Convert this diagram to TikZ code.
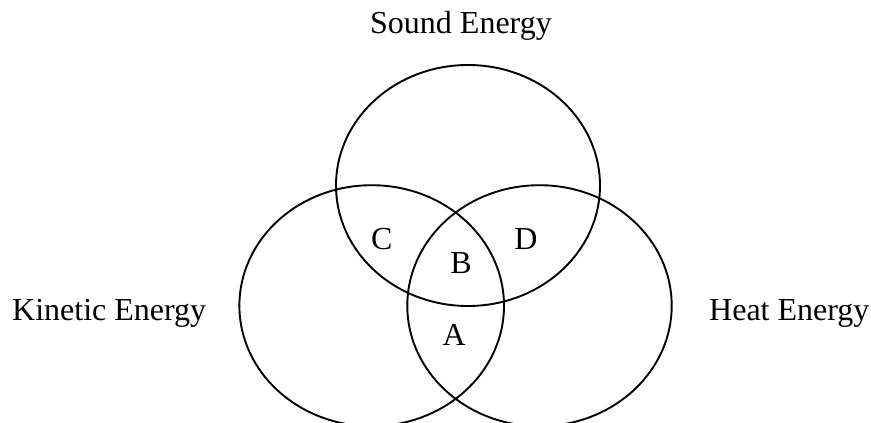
\documentclass[tikz,border=0pt]{standalone}
\usepackage{fontspec}
\setmainfont{Liberation Serif}
\begin{document}
\begin{tikzpicture}[x=1pt,y=-1pt,
  ring/.style={draw=black,line width=1.9pt},
  lbl/.style={inner sep=0pt,font=\fontsize{32}{37}\selectfont}]
\useasboundingbox (0,0) rectangle (871,423);
\begin{scope}
\clip (0,0) rectangle (871,423);
\draw[ring] (468,185.5) ellipse [x radius=132, y radius=120.5];
\draw[ring] (371.7,305.7) ellipse [x radius=132.3, y radius=120.5];
\draw[ring] (539.5,305.7) ellipse [x radius=132.2, y radius=120.5];
\end{scope}
\node[lbl,anchor=base] (sound) at (461,33) {Sound Energy};
\node[lbl,anchor=base west] (kinetic) at (12,320) {Kinetic Energy};
\node[lbl,anchor=base west] (heat) at (709,320) {Heat Energy};
\node[lbl,anchor=base] (c) at (381.7,249) {C};
\node[lbl,anchor=base] (b) at (461,273.3) {B};
\node[lbl,anchor=base] (a) at (454.3,345.7) {A};
\node[lbl,anchor=base] (d) at (526,249) {D};
\end{tikzpicture}
\end{document}
